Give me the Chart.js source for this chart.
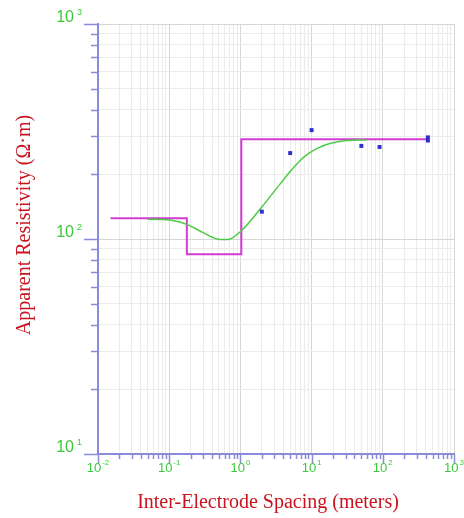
<!DOCTYPE html>
<html>
<head>
<meta charset="utf-8">
<script src="https://cdn.jsdelivr.net/npm/chart.js@4"></script>
<style>
html,body{margin:0;padding:0;background:#fff;}
#wrap{width:464px;height:518px;}
</style>
</head>
<body>
<div id="wrap"><canvas id="c" width="464" height="518"></canvas></div>
<script>
// ---- data ----
const modelDepths = [0.015, 0.177, 1.03, 430];      // layer boundaries (x)
const modelRho = [125, 85, 291];                     // layer resistivities
const curveX = [0.05, 0.093, 0.177, 0.3, 0.52, 0.67, 1.04, 2.0, 3.6, 5.0, 6.5, 8.5, 12, 18, 31, 59];
const curveY = [123.5, 123, 117, 107, 99.5, 99.5, 109.5, 141, 180, 206, 227, 246, 264, 278, 287, 289];
const obsX = [2, 5, 10, 50, 90, 430, 430];
const obsY = [134, 251, 321, 271, 268, 297, 287];
const xTickValues = [0.01, 0.1, 1, 10, 100, 1000];
const xTickExps = ['-2', '-1', '0', '1', '2', '3'];
const yTickValues = [10, 100, 1000];
const yTickExps = ['1', '2', '3'];
const xTitle = 'Inter-Electrode Spacing (meters)';
const yTitle = 'Apparent Resistivity (\u03A9\u00B7m)';

// ---- build ----
const stepPts = [];
for (let i = 0; i < modelRho.length; i++) {
  stepPts.push({x: modelDepths[i], y: modelRho[i]});
  stepPts.push({x: modelDepths[i + 1], y: modelRho[i]});
}
const curvePts = curveX.map((x, i) => ({x, y: curveY[i]}));
const obsPts = obsX.map((x, i) => ({x, y: obsY[i]}));

const axisColor = '#8b8bd9';
const labelGreen = '#3cc83c';
const titleRed = '#c8141e';

function logTicks(min, max) {
  const t = [];
  const e0 = Math.round(Math.log10(min)), e1 = Math.round(Math.log10(max));
  for (let e = e0; e < e1; e++) {
    for (let s = 1; s < 10; s++) t.push({value: parseFloat((s * Math.pow(10, e)).toPrecision(6)), major: s === 1});
  }
  t.push({value: max, major: true});
  return t;
}

const gridColor = c => (c.tick && c.tick.major) ? '#d7d7d7' : '#ebebeb';

const drawPlugin = {
  id: 'drawPlugin',
  afterDraw(chart) {
    const {ctx, chartArea, scales} = chart;
    const x = scales.x, y = scales.y;
    ctx.save();
    ctx.strokeStyle = axisColor;
    ctx.lineWidth = 1.5;
    // y tick marks
    y.ticks.forEach(t => {
      const py = Math.round(y.getPixelForValue(t.value)) + 0.5;
      const len = t.major ? 14 : 7;
      ctx.beginPath(); ctx.moveTo(chartArea.left - len, py); ctx.lineTo(chartArea.left, py); ctx.stroke();
    });
    // x tick marks
    x.ticks.forEach(t => {
      const px = Math.round(x.getPixelForValue(t.value)) + 0.5;
      const len = t.major ? 9 : 5;
      ctx.beginPath(); ctx.moveTo(px, chartArea.bottom); ctx.lineTo(px, chartArea.bottom + len); ctx.stroke();
    });
    ctx.fillStyle = labelGreen;
    ctx.textBaseline = 'middle';
    // x labels
    xTickValues.forEach((v, i) => {
      const px = x.getPixelForValue(v);
      ctx.font = '13px "Liberation Sans", Arial, sans-serif';
      const w1 = ctx.measureText('10').width;
      ctx.font = '8px "Liberation Sans", Arial, sans-serif';
      const w2 = ctx.measureText(xTickExps[i]).width;
      const start = px - (w1 + w2 + 1) / 2;
      const cy = chartArea.bottom + 14;
      ctx.textAlign = 'left';
      ctx.font = '13px "Liberation Sans", Arial, sans-serif';
      ctx.fillText('10', start, cy);
      ctx.font = '8px "Liberation Sans", Arial, sans-serif';
      ctx.fillText(xTickExps[i], start + w1 + 1, cy - 5);
    });
    // y labels
    yTickValues.forEach((v, i) => {
      const py = y.getPixelForValue(v) - 6;
      const right = chartArea.left - 16;
      ctx.font = '9px "Liberation Sans", Arial, sans-serif';
      const w2 = ctx.measureText(yTickExps[i]).width;
      ctx.textAlign = 'right';
      ctx.fillText(yTickExps[i], right, py - 5);
      ctx.font = '16px "Liberation Sans", Arial, sans-serif';
      ctx.fillText('10', right - w2 - 3, py);
    });
    // titles
    ctx.fillStyle = titleRed;
    ctx.font = '20px "Liberation Serif", "Times New Roman", serif';
    ctx.textAlign = 'center';
    ctx.fillText(xTitle, (chartArea.left + chartArea.right) / 2 - 8, 503);
    ctx.save();
    ctx.translate(25, (chartArea.top + chartArea.bottom) / 2 - 14);
    ctx.rotate(-Math.PI / 2);
    ctx.fillText(yTitle, 0, 0);
    ctx.restore();
    ctx.restore();
  }
};

new Chart(document.getElementById('c'), {
  type: 'scatter',
  data: {
    datasets: [
      {data: obsPts, showLine: false, pointStyle: 'rect', pointRadius: 2.8, backgroundColor: '#3030cc', borderColor: '#3030cc', borderWidth: 0, order: 0},
      {data: curvePts, showLine: true, pointRadius: 0, borderColor: '#4ccc44', borderWidth: 1.5, cubicInterpolationMode: 'monotone', order: 1},
      {data: stepPts, showLine: true, pointRadius: 0, borderColor: '#d23cd2', borderWidth: 2, order: 2}
    ]
  },
  options: {
    responsive: false,
    animation: false,
    devicePixelRatio: 1,
    layout: {padding: {left: 98, top: 24, right: 10, bottom: 64}},
    plugins: {legend: {display: false}, tooltip: {enabled: false}},
    scales: {
      x: {
        type: 'logarithmic', min: 0.01, max: 1000,
        afterBuildTicks: s => { s.ticks = logTicks(0.01, 1000); },
        ticks: {display: false},
        grid: {color: gridColor, drawTicks: false, lineWidth: 1},
        border: {display: true, color: axisColor, width: 2}
      },
      y: {
        type: 'logarithmic', min: 10, max: 1000,
        afterBuildTicks: s => { s.ticks = logTicks(10, 1000); },
        ticks: {display: false},
        grid: {color: gridColor, drawTicks: false, lineWidth: 1},
        border: {display: true, color: axisColor, width: 2}
      }
    }
  },
  plugins: [drawPlugin]
});
</script>
</body>
</html>
